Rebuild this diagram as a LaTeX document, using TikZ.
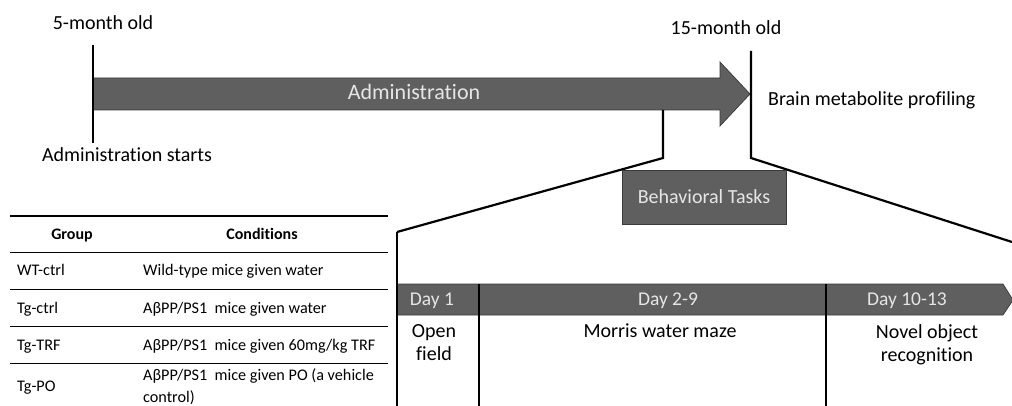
\documentclass[tikz,border=0pt]{standalone}
\usepackage{fontspec}
\setmainfont{Carlito}[Ligatures=NoCommon]
\definecolor{bar}{HTML}{5F5F5F}
\definecolor{barline}{HTML}{3A3A3A}
\definecolor{bartext}{HTML}{E6E6E6}
\begin{document}
\begin{tikzpicture}[x=1pt,y=-1pt,
  lbl/.style={font=\fontsize{20}{22}\selectfont, inner sep=0pt, anchor=base},
  tbl/.style={font=\fontsize{16.2}{18}\selectfont, inner sep=0pt, anchor=base west},
  tblhead/.style={font=\fontsize{16}{18}\selectfont\bfseries, inner sep=0pt, anchor=base},
  bartxt/.style={font=\fontsize{19.5}{22}\selectfont, text=bartext, inner sep=0pt, anchor=base},
  tasktxt/.style={font=\fontsize{20}{23.5}\selectfont, inner sep=0pt, align=center, anchor=north},
  barshape/.style={fill=bar, draw=barline, line width=0.7pt},
  thickline/.style={line width=2.8pt},
  bracket/.style={line width=2.2pt},
  rule/.style={line width=0.9pt},
  toprule/.style={line width=1.6pt}]
\useasboundingbox (0,0) rectangle (1012,406);

% main administration arrow
\draw[barshape] (93,78) -- (720,78) -- (720,62) -- (750,94) -- (720,126) -- (720,110) -- (93,110) -- cycle;
\node[bartxt, font=\fontsize{22}{24}\selectfont] (adm) at (414,100) {Administration};

% time marks
\coordinate (startT) at (93,45);
\coordinate (startB) at (93,143);
\draw[thickline] (startT) -- (startB);
\coordinate (endT) at (751,51);
\coordinate (endC) at (751,158);
\coordinate (endR) at (1012,242);
\draw[bracket] (endT) -- (endC) -- (endR);
\coordinate (brT) at (663,110);
\coordinate (brC) at (663,158);
\coordinate (brL) at (397,232);
\coordinate (brB) at (397,406);
\draw[bracket] (brT) -- (brC) -- (brL);
\draw[thickline] (brL) -- (brB);

\node[lbl] (m5) at (103,30) {5-month old};
\node[lbl] (m15) at (726,35) {15-month old};
\node[lbl, anchor=base west] (bmp) at (768,106) {Brain metabolite profiling};
\node[lbl] (adst) at (127,162) {Administration starts};

% behavioral tasks box
\node[barshape, minimum width=164pt, minimum height=54pt, inner sep=0pt,
      text=bartext, font=\fontsize{20}{22}\selectfont] (bt) at (704,197) {Behavioral Tasks};

% day bar
\draw[barshape] (397,284) -- (1003,284) -- (1013,300) -- (1003,315) -- (397,315) -- cycle;
\coordinate (d1T) at (479,284);
\coordinate (d1B) at (479,406);
\coordinate (d2T) at (826,284);
\coordinate (d2B) at (826,406);
\draw[thickline] (d1T) -- (d1B);
\draw[thickline] (d2T) -- (d2B);
\draw[thickline] (397,282) -- (brB);

\node[bartxt] (day1) at (432,305) {Day 1};
\node[bartxt] (day29) at (668,305) {Day 2-9};
\node[bartxt] (day1013) at (907,305) {Day 10-13};

\node[tasktxt] (of) at (434,324) {Open\\field};
\node[tasktxt] (mwm) at (660,324) {Morris water maze};
\node[tasktxt] (nor) at (927,324) {Novel object\\recognition};

% table
\draw[toprule] (10,216) -- (388,216);
\draw[rule] (10,252) -- (388,252);
\draw[rule] (10,289) -- (388,289);
\draw[rule] (10,326) -- (388,326);
\draw[rule] (10,363) -- (388,363);

\node[tblhead] (hg) at (72,240) {Group};
\node[tblhead] (hc) at (262,240) {Conditions};
\node[tbl] (g1) at (17,276) {WT-ctrl};
\node[tbl] (c1) at (143,276) {Wild-type mice given water};
\node[tbl] (g2) at (17,313) {Tg-ctrl};
\node[tbl] (c2) at (143,313) {AβPP/PS1\ \ mice given water};
\node[tbl] (g3) at (17,350) {Tg-TRF};
\node[tbl] (c3) at (143,350) {AβPP/PS1\ \ mice given 60mg/kg TRF};
\node[tbl] (g4) at (17,391) {Tg-PO};
\node[tbl] (c4a) at (143,380) {AβPP/PS1\ \ mice given PO (a vehicle};
\node[tbl] (c4b) at (143,402) {control)};
\end{tikzpicture}
\end{document}
